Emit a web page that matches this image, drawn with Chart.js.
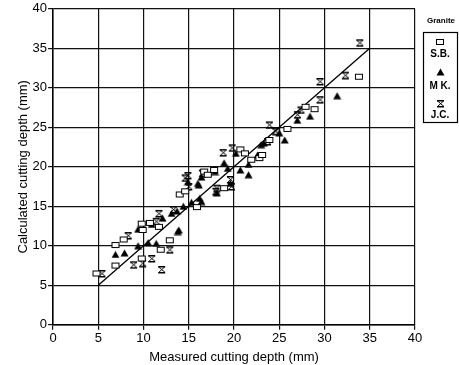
<!DOCTYPE html>
<html>
<head>
<meta charset="utf-8">
<script src="https://cdn.jsdelivr.net/npm/chart.js@4.4.1/dist/chart.umd.min.js"></script>
<style>
  html, body { margin: 0; padding: 0; background: #fff; }
</style>
</head>
<body>
<canvas id="chart" width="459" height="365"></canvas>
<script>
// Measured vs calculated cutting depth (mm), three granites
const seriesNames = ['S.B.', 'M K.', 'J.C.'];
const legendTitle = 'Granite';

const sbMeasured   = [4.8, 6.9, 6.9, 7.8, 9.8, 9.9, 9.8, 10.7, 11.7, 11.9, 12.9, 14.0, 14.6, 15.9, 16.7, 17.1, 17.8, 18.9, 20.7, 21.2, 21.9, 22.8, 23.1, 23.9, 25.9, 27.9, 28.9, 33.8];
const sbCalculated = [6.5, 7.5, 10.1, 10.8, 8.4, 12.0, 12.8, 12.9, 12.4, 9.5, 10.7, 16.5, 16.9, 14.9, 19.4, 19.0, 19.6, 17.3, 22.2, 21.7, 20.9, 21.1, 21.5, 23.4, 24.8, 27.6, 27.3, 31.4];

const mkMeasured   = [6.9, 7.9, 9.4, 10.5, 11.4, 13.8, 9.4, 10.9, 12.1, 13.1, 13.7, 14.4, 13.9, 14.9, 16.4, 16.0, 17.9, 16.2, 16.4, 16.1, 18.9, 19.3, 19.6, 18.1, 20.2, 20.7, 21.6, 21.6, 22.6, 23.0, 23.3, 25.0, 25.6, 27.0, 28.4, 31.4, 15.3];
const mkCalculated = [8.9, 9.1, 10.0, 10.4, 10.3, 11.8, 12.1, 12.7, 13.5, 14.1, 14.4, 15.0, 12.0, 18.1, 18.7, 17.9, 19.4, 16.0, 15.6, 17.7, 20.5, 19.8, 17.9, 16.7, 21.7, 19.6, 20.3, 19.0, 21.5, 22.8, 23.0, 24.3, 23.4, 25.9, 26.4, 29.0, 15.5];

const jcMeasured   = [5.4, 8.3, 8.9, 9.9, 10.9, 12.9, 11.4, 11.7, 13.3, 14.6, 14.9, 15.0, 16.5, 18.0, 18.1, 18.8, 19.8, 19.6, 19.7, 23.7, 23.9, 24.6, 27.0, 27.4, 29.5, 29.5, 32.3, 33.9, 12.0];
const jcCalculated = [6.5, 11.3, 7.6, 7.8, 8.4, 9.5, 13.1, 14.1, 14.6, 18.6, 18.9, 17.5, 19.2, 16.9, 17.3, 21.8, 22.4, 18.4, 17.5, 23.2, 25.3, 24.5, 26.6, 27.2, 28.5, 30.8, 31.6, 35.7, 7.0];

const fitMeasured   = [5, 35];
const fitCalculated = [5, 35];

const axisTicks = [0, 5, 10, 15, 20, 25, 30, 35, 40];

const pairs = (xs, ys) => xs.map((x, i) => ({ x: x, y: ys[i] }));

// marker sprites
function sprite(w, h, paint) {
  const c = document.createElement('canvas');
  c.width = w; c.height = h;
  const g = c.getContext('2d');
  g.strokeStyle = '#000';
  g.fillStyle = '#000';
  g.lineWidth = 1;
  paint(g);
  return c;
}
const squareMark = sprite(10, 8, g => {
  g.fillStyle = '#fff';
  g.fillRect(1, 1, 8, 6);
  g.strokeRect(1.5, 1.5, 7, 5);
});
const triangleMark = sprite(9, 8, g => {
  g.beginPath();
  g.moveTo(4.5, 0.5);
  g.lineTo(8.5, 7.5);
  g.lineTo(0.5, 7.5);
  g.closePath();
  g.fill();
});
const hourglassMark = sprite(9, 9, g => {
  g.beginPath();
  g.moveTo(1, 1.5);
  g.lineTo(8, 1.5);
  g.lineTo(1.5, 7.5);
  g.lineTo(8, 7.5);
  g.closePath();
  g.stroke();
  g.fillRect(1, 1, 7, 1.5);
  g.fillRect(1, 7, 7, 1.5);
});
const marks = [squareMark, triangleMark, hourglassMark];

// boxed legend on the right, symbol above each name
const granitLegend = {
  id: 'granitLegend',
  afterDraw(chart) {
    const ctx = chart.ctx;
    const cx = 440;
    ctx.save();
    ctx.strokeStyle = '#000';
    ctx.lineWidth = 1.2;
    ctx.strokeRect(423.5, 32.5, 34, 90);
    ctx.fillStyle = '#000';
    ctx.textAlign = 'center';
    ctx.textBaseline = 'middle';
    ctx.font = 'bold 8px "Liberation Sans", Arial, sans-serif';
    ctx.fillText(legendTitle, cx + 1, 21);
    ctx.font = 'bold 10px "Liberation Sans", Arial, sans-serif';
    const symY = [42, 72, 103];
    const txtY = [54, 86, 115];
    seriesNames.forEach((name, i) => {
      const m = marks[i];
      ctx.drawImage(m, Math.round(cx - m.width / 2), Math.round(symY[i] - m.height / 2));
      ctx.fillText(name, cx, txtY[i]);
    });
    ctx.restore();
  }
};

const font = { family: '"Liberation Sans", Arial, Helvetica, sans-serif', size: 13 };

const axis = (title) => ({
  type: 'linear',
  min: 0,
  max: 40,
  afterBuildTicks: scale => { scale.ticks = axisTicks.map(v => ({ value: v })); },
  ticks: { color: '#000', font: font, padding: 1, maxRotation: 0 },
  grid: { color: '#111', lineWidth: 1.2, tickLength: 5, drawTicks: true },
  border: { color: '#000', width: 1.5 },
  title: { display: true, text: title, color: '#000', font: font, padding: { top: 2, bottom: 0 } }
});

new Chart(document.getElementById('chart'), {
  type: 'scatter',
  data: {
    datasets: [
      {
        label: seriesNames[0],
        data: pairs(sbMeasured, sbCalculated),
        pointStyle: squareMark,
        pointRadius: 4
      },
      {
        label: seriesNames[1],
        data: pairs(mkMeasured, mkCalculated),
        pointStyle: triangleMark,
        pointRadius: 4
      },
      {
        label: seriesNames[2],
        data: pairs(jcMeasured, jcCalculated),
        pointStyle: hourglassMark,
        pointRadius: 4
      },
      {
        type: 'line',
        label: 'fit',
        data: pairs(fitMeasured, fitCalculated),
        borderColor: '#000',
        borderWidth: 1.3,
        pointRadius: 0,
        fill: false
      }
    ]
  },
  options: {
    responsive: false,
    animation: false,
    layout: { padding: { left: 14, right: 44, top: 7, bottom: 0 } },
    scales: {
      x: axis('Measured cutting depth (mm)'),
      y: axis('Calculated cutting depth (mm)')
    },
    plugins: {
      legend: { display: false },
      tooltip: { enabled: false }
    }
  },
  plugins: [granitLegend]
});
</script>
</body>
</html>
